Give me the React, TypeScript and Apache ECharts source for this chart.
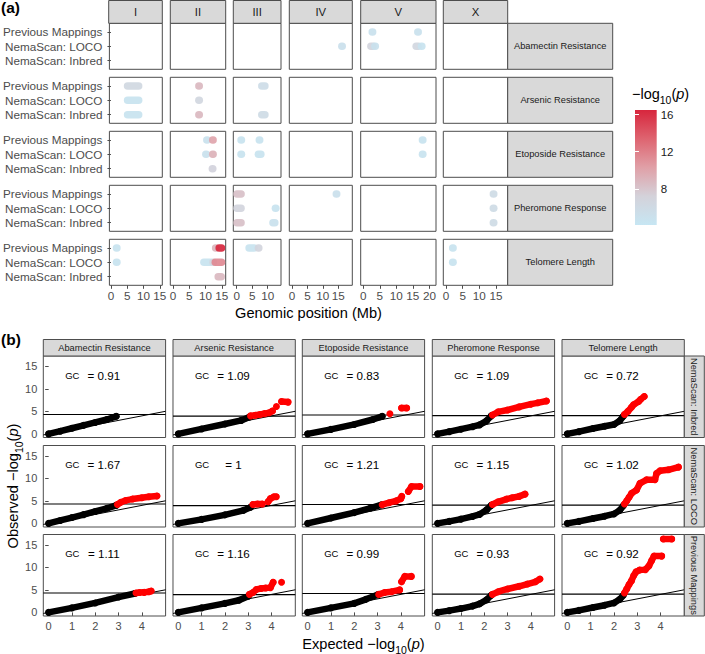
import React, { useEffect, useRef } from 'react';
import * as echarts from 'echarts';

const FONT = '"Liberation Sans", Arial, Helvetica, sans-serif';
const BORDER = '#4d4d4d';
const TICK_TEXT = '#4d4d4d';
const STRIP_FILL = '#d9d9d9';

// ---------------- Panel (a) data ----------------
const chromosomes = ['I', 'II', 'III', 'IV', 'V', 'X'];
const chromAxisMin = [-0.48, -0.83, -1.1, -0.88, -0.79, -0.81];
const chromAxisMax = [15.76, 16.2, 14.3, 19.6, 22.0, 18.5];
const chromTickValues = [
  [0, 5, 10, 15],
  [0, 5, 10, 15],
  [0, 5, 10],
  [0, 5, 10, 15],
  [0, 5, 10, 15, 20],
  [0, 5, 10, 15],
];
const traits = [
  'Abamectin Resistance',
  'Arsenic Resistance',
  'Etoposide Resistance',
  'Pheromone Response',
  'Telomere Length',
];
const mappingMethods = ['Previous Mappings', 'NemaScan: LOCO', 'NemaScan: Inbred'];

// [traitIndex, chromIndex, methodIndex(0=Previous,1=LOCO,2=Inbred), startMb, endMb, -log10(p)]
const qtlIntervals: number[][] = [
  [0, 3, 1, 16.2, 16.2, 5.0],
  [0, 4, 0, 2.7, 2.7, 4.8],
  [0, 4, 0, 16.5, 16.5, 4.8],
  [0, 4, 1, 2.3, 2.9, 6.8],
  [0, 4, 1, 3.5, 3.5, 4.8],
  [0, 4, 1, 16.0, 16.6, 6.5],
  [0, 4, 1, 17.6, 17.6, 4.6],

  [1, 0, 0, 5.1, 8.5, 6.3],
  [1, 0, 1, 5.1, 8.5, 4.6],
  [1, 0, 2, 5.1, 8.5, 4.6],
  [1, 1, 0, 7.95, 7.95, 8.8],
  [1, 1, 1, 7.95, 7.95, 6.5],
  [1, 1, 2, 7.95, 7.95, 8.8],
  [1, 2, 0, 8.1, 9.1, 5.6],
  [1, 2, 2, 8.1, 9.1, 5.8],

  [2, 1, 0, 10.4, 10.4, 4.8],
  [2, 1, 0, 12.2, 12.2, 10.0],
  [2, 1, 1, 10.1, 10.1, 4.8],
  [2, 1, 1, 12.2, 12.2, 9.2],
  [2, 1, 2, 12.1, 12.1, 7.0],
  [2, 2, 0, 1.4, 1.4, 4.6],
  [2, 2, 0, 7.3, 7.3, 4.6],
  [2, 2, 1, 1.4, 1.4, 4.6],
  [2, 2, 1, 7.0, 7.8, 4.6],
  [2, 4, 0, 17.9, 17.9, 4.6],
  [2, 4, 1, 17.9, 17.9, 4.6],

  [3, 2, 0, 0.1, 1.4, 8.3],
  [3, 2, 1, 0.1, 1.4, 6.8],
  [3, 2, 1, 12.5, 12.5, 4.6],
  [3, 2, 2, 0.1, 1.4, 8.3],
  [3, 2, 2, 11.7, 12.3, 4.8],
  [3, 3, 0, 14.4, 14.4, 5.0],
  [3, 5, 0, 14.2, 14.2, 5.8],
  [3, 5, 1, 14.2, 14.2, 5.8],
  [3, 5, 2, 14.2, 14.2, 5.8],

  [4, 0, 0, 1.7, 1.7, 4.6],
  [4, 0, 1, 1.7, 1.7, 4.6],
  [4, 1, 0, 13.1, 13.1, 9.0],
  [4, 1, 0, 14.2, 14.9, 16.5],
  [4, 1, 1, 9.5, 11.4, 4.6],
  [4, 1, 1, 12.3, 12.3, 6.5],
  [4, 1, 1, 13.0, 14.9, 11.5],
  [4, 1, 2, 13.9, 14.8, 8.8],
  [4, 2, 0, 4.0, 5.6, 4.6],
  [4, 2, 0, 7.0, 7.0, 6.8],
  [4, 5, 0, 2.0, 2.0, 4.6],
  [4, 5, 1, 2.0, 2.0, 4.6],
];

const colorScaleMin = 4.1;
const colorScaleMax = 16.5;
const colorScaleColors = ['#c6e6f3', '#d4d2da', '#e0a0a7', '#de6470', '#d7263d'];
const colorbarTicks = [8, 12, 16];

// ---------------- Panel (b) data ----------------
const qqRowLabels = ['NemaScan: Inbred', 'NemaScan: LOCO', 'Previous Mappings'];
const qqThresholds = [4.3, 3.95, 4.2, 4.05, 4.05];
const gcInbred = [0.91, 1.09, 0.83, 1.09, 0.72];
const gcLoco = [1.67, 1, 1.21, 1.15, 1.02];
const gcPrevious = [1.11, 1.16, 0.99, 0.93, 0.92];
const qqXTicks = [0, 1, 2, 3, 4];
const qqYTicks = [0, 5, 10, 15];

type P = number[] | null;
// NemaScan: Inbred
const abaInbredNonSig: P[] = [[0, 0], [0.5, 0.6], [1, 1.25], [1.5, 1.9], [2, 2.55], [2.5, 3.2], [2.9, 3.9]];
const abaInbredSig: P[] = [];
const arsInbredNonSig: P[] = [[0, 0], [1, 1.1], [2, 2.2], [2.7, 3.0], [3.05, 3.75]];
const arsInbredSig: P[] = [[3.1, 4.0], [3.3, 4.15], [3.5, 4.3], [3.7, 4.5], [3.9, 4.7], [4.04, 5.1], null, [4.21, 6.1], null, [4.43, 7.2], [4.71, 7.06]];
const etoInbredNonSig: P[] = [[0, 0], [1, 1.0], [2, 2.1], [2.8, 3.2], [3.2, 3.9]];
const etoInbredSig: P[] = [[3.53, 4.48], null, [4.03, 5.74], [4.25, 5.74]];
const pherInbredNonSig: P[] = [[0, 0], [0.5, 0.5], [1, 1.05], [1.5, 1.6], [1.8, 2.0], [2.1, 2.9], [2.3, 4.0]];
const pherInbredSig: P[] = [[2.35, 4.2], [2.6, 4.9], [3.0, 5.3], [3.5, 6.0], [4.0, 6.6], [4.3, 6.9], [4.67, 7.3]];
const telInbredNonSig: P[] = [[0, 0], [0.5, 0.5], [1.1, 1.2], [1.6, 1.7], [2.0, 2.1], [2.25, 2.9], [2.4, 3.9]];
const telInbredSig: P[] = [[2.45, 4.3], [2.6, 5.0], [2.75, 5.9], [2.84, 6.47], [3.06, 7.2], [3.15, 7.7], [3.3, 8.3]];
// NemaScan: LOCO
const abaLocoNonSig: P[] = [[0, 0], [0.5, 0.65], [1, 1.3], [1.5, 1.95], [2, 2.65], [2.5, 3.35], [2.9, 4.0]];
const abaLocoSig: P[] = [[2.95, 4.2], [3.1, 4.7], [3.3, 5.1], [3.6, 5.4], [4.0, 5.7], [4.3, 5.9], [4.65, 6.1]];
const arsLocoNonSig: P[] = [[0, 0], [1, 0.9], [2, 1.9], [2.8, 2.9], [3.1, 3.6]];
const arsLocoSig: P[] = [[3.2, 4.2], [3.4, 4.3], [3.6, 4.3], null, [3.85, 4.8], [3.95, 5.5], [4.1, 5.9], [4.2, 5.9]];
const etoLocoNonSig: P[] = [[0, 0], [1, 1.2], [2, 2.4], [2.7, 3.4], [3.15, 4.1]];
const etoLocoSig: P[] = [[3.2, 4.15], [3.5, 4.6], [3.8, 5.0], [4.0, 5.5], [4.04, 6.0], null, [4.32, 7.1], [4.46, 8.2], [4.82, 8.2]];
const pherLocoNonSig: P[] = [[0, 0], [0.5, 0.45], [1, 0.95], [1.5, 1.55], [1.8, 2.0], [2.1, 3.0], [2.3, 4.0]];
const pherLocoSig: P[] = [[2.35, 4.2], [2.6, 4.8], [2.96, 5.4], [3.2, 5.7], [3.5, 6.0], [3.75, 6.5]];
const telLocoNonSig: P[] = [[0, 0], [0.5, 0.45], [1.1, 1.1], [1.6, 1.6], [2.0, 2.1], [2.25, 2.9], [2.4, 3.9]];
const telLocoSig: P[] = [[2.45, 4.3], [2.55, 5.0], [2.65, 5.8], [2.76, 6.7], [2.97, 7.4], [3.12, 8.9], [3.4, 9.7], [3.76, 9.7], [3.83, 11.1], [3.98, 11.7], [4.34, 11.9], [4.77, 12.5]];
// Previous Mappings
const abaPrevNonSig: P[] = [[0, 0], [1, 1.0], [2, 2.1], [3, 3.4], [3.7, 4.2]];
const abaPrevSig: P[] = [[3.75, 4.3], [3.9, 4.4], [4.1, 4.45], [4.3, 4.6], [4.4, 4.75]];
const arsPrevNonSig: P[] = [[0, 0], [1, 1.0], [2, 2.0], [2.6, 2.7], [3.0, 3.6]];
const arsPrevSig: P[] = [[3.05, 4.0], [3.2, 4.4], [3.35, 5.1], [3.55, 5.3], [3.75, 5.4], [3.95, 5.5], [4.07, 6.7], null, [4.43, 6.7]];
const etoPrevNonSig: P[] = [[0, 0], [1, 1.0], [2, 2.0], [2.5, 2.9], [3.0, 3.9]];
const etoPrevSig: P[] = [[3.05, 4.0], [3.3, 4.4], [3.6, 4.6], [3.95, 5.0], null, [4.03, 6.8], [4.17, 8.0], [4.45, 8.0]];
const pherPrevNonSig: P[] = [[0, 0], [0.5, 0.4], [1, 0.85], [1.5, 1.4], [1.8, 1.9], [2.1, 2.8], [2.3, 3.8]];
const pherPrevSig: P[] = [[2.35, 4.0], [2.6, 4.6], [3.0, 5.2], [3.5, 5.8], [3.85, 6.3], [4.2, 6.8], [4.39, 7.4]];
const telPrevNonSig: P[] = [[0, 0], [0.5, 0.45], [1.1, 1.1], [1.6, 1.6], [2.0, 2.1], [2.25, 2.9], [2.4, 3.8]];
const telPrevSig: P[] = [[2.45, 4.3], [2.55, 5.2], [2.65, 6.2], [2.75, 7.0], [2.85, 8.2], [2.95, 9.0], [3.1, 9.4], [3.35, 9.5], [3.5, 10.3], [3.62, 11.5], [3.72, 12.5], [4.05, 12.5], null, [4.12, 16.3], [4.48, 16.3]];

const qqNonSig = [
  [abaInbredNonSig, arsInbredNonSig, etoInbredNonSig, pherInbredNonSig, telInbredNonSig],
  [abaLocoNonSig, arsLocoNonSig, etoLocoNonSig, pherLocoNonSig, telLocoNonSig],
  [abaPrevNonSig, arsPrevNonSig, etoPrevNonSig, pherPrevNonSig, telPrevNonSig],
];
const qqSig = [
  [abaInbredSig, arsInbredSig, etoInbredSig, pherInbredSig, telInbredSig],
  [abaLocoSig, arsLocoSig, etoLocoSig, pherLocoSig, telLocoSig],
  [abaPrevSig, arsPrevSig, etoPrevSig, pherPrevSig, telPrevSig],
];
const gcValues = [gcInbred, gcLoco, gcPrevious];

// ---------------- layout ----------------
const aColLeft = [108.7, 170.3, 233.3, 289.3, 360.7, 443.3];
const aColRight = [162.3, 225.7, 281, 352.3, 436, 507.7];
const aRowTop = [23.3, 77.3, 131.3, 185.3, 239.3];
const aRowH = 46;
const aStripTop = 0.5;
const aRightStripW = 105;

const bColLeft = [43.3, 173, 302.3, 432.3, 562];
const bColW = 122.3;
const bRowTop = [356, 445.5, 534.5];
const bRowH = 81.5;
const bXMin = -0.23;
const bXMax = 5.02;
const bYMin = -0.8;
const bYMax = 17.3;

function stripRect(x: number, y: number, w: number, h: number) {
  return {
    type: 'rect',
    silent: true,
    shape: { x, y, width: w, height: h },
    style: { fill: STRIP_FILL, stroke: BORDER, lineWidth: 1 },
    z: 10,
  };
}
function label(x: number, y: number, text: string, fontSize: number, opts: any = {}) {
  return {
    type: 'text',
    silent: true,
    x,
    y,
    rotation: opts.rotation || 0,
    z: 11,
    style: {
      text,
      fontSize,
      fontFamily: FONT,
      fontWeight: opts.fontWeight || 'normal',
      fill: opts.fill || '#1a1a1a',
      align: opts.align || 'center',
      verticalAlign: 'middle',
      textAlign: opts.align || 'center',
      textVerticalAlign: 'middle',
      rich: opts.rich,
    },
  };
}

function logRich(size: number) {
  return {
    n: { fontSize: size, fontFamily: FONT, fill: '#000', lineHeight: 22, verticalAlign: 'middle' },
    s: { fontSize: size * 0.72, fontFamily: FONT, fill: '#000', lineHeight: 10, verticalAlign: 'bottom' },
    i: { fontSize: size, fontFamily: FONT, fontStyle: 'italic', fill: '#000', lineHeight: 22, verticalAlign: 'middle' },
  };
}

function buildOption() {
  const grid: any[] = [];
  const xAxis: any[] = [];
  const yAxis: any[] = [];
  const series: any[] = [];
  const graphic: any[] = [];
  const intervalSeries: number[] = [];

  const renderInterval = (params: any, api: any) => {
    const y = api.value(2);
    const p1 = api.coord([api.value(0), y]);
    const p2 = api.coord([api.value(1), y]);
    return {
      type: 'line',
      shape: { x1: p1[0], y1: p1[1], x2: Math.max(p2[0], p1[0] + 0.4), y2: p2[1] },
      style: { stroke: api.visual('color'), lineWidth: 7.5, lineCap: 'round', opacity: 0.92 },
    };
  };

  // ----- panel (a)
  traits.forEach((trait, r) => {
    chromosomes.forEach((chrom, c) => {
      const gi = grid.length;
      const bottom = r === traits.length - 1;
      const first = c === 0;
      grid.push({
        left: aColLeft[c],
        top: aRowTop[r],
        width: aColRight[c] - aColLeft[c],
        height: aRowH,
        show: true,
        borderColor: BORDER,
        borderWidth: 1,
        backgroundColor: '#fff',
      });
      xAxis.push({
        gridIndex: gi,
        type: 'value',
        min: chromAxisMin[c],
        max: chromAxisMax[c],
        axisLine: { show: false },
        splitLine: { show: false },
        axisTick: { show: bottom, customValues: chromTickValues[c], length: 3.5, lineStyle: { color: BORDER } },
        axisLabel: {
          show: bottom,
          customValues: chromTickValues[c],
          margin: 4.5,
          fontSize: 11.7,
          color: TICK_TEXT,
          fontFamily: FONT,
        },
      });
      yAxis.push({
        gridIndex: gi,
        type: 'value',
        min: 0.4,
        max: 3.6,
        inverse: true,
        axisLine: { show: false },
        splitLine: { show: false },
        axisTick: { show: first, customValues: [1, 2, 3], length: 3.5, lineStyle: { color: BORDER } },
        axisLabel: {
          show: first,
          customValues: [1, 2, 3],
          formatter: (v: number) => mappingMethods[Math.round(v) - 1],
          margin: 7,
          fontSize: 11.7,
          color: TICK_TEXT,
          fontFamily: FONT,
        },
      });
      const data = qtlIntervals
        .filter((d) => d[0] === r && d[1] === c)
        .map((d) => [d[3], d[4], d[2] + 1, d[5]]);
      if (data.length) {
        intervalSeries.push(series.length);
        series.push({
          type: 'custom',
          xAxisIndex: gi,
          yAxisIndex: gi,
          data,
          renderItem: renderInterval,
          encode: { x: [0, 1], y: 2 },
          clip: false,
          silent: true,
        });
      }
      if (r === 0) {
        graphic.push(stripRect(aColLeft[c], aStripTop, aColRight[c] - aColLeft[c], aRowTop[0] - aStripTop));
        graphic.push(label((aColLeft[c] + aColRight[c]) / 2, (aStripTop + aRowTop[0]) / 2, chrom, 11.3));
      }
    });
    const rx = aColRight[chromosomes.length - 1];
    graphic.push(stripRect(rx, aRowTop[r], aRightStripW, aRowH));
    graphic.push(label(rx + aRightStripW / 2, aRowTop[r] + aRowH / 2, trait, 9.3));
  });

  // colorbar
  const cbLeft = 635;
  const cbTop = 110;
  const cbW = 21.7;
  const cbH = 115;
  const cbGrid = grid.length;
  grid.push({ left: cbLeft, top: cbTop, width: cbW, height: cbH, show: false });
  xAxis.push({ gridIndex: cbGrid, type: 'value', min: 0, max: 1, show: false });
  yAxis.push({
    gridIndex: cbGrid,
    type: 'value',
    position: 'right',
    min: colorScaleMin,
    max: colorScaleMax,
    z: 5,
    axisLine: { show: false },
    splitLine: { show: false },
    axisTick: { show: true, inside: true, customValues: colorbarTicks, length: 4, lineStyle: { color: '#ffffff', width: 1 } },
    axisLabel: { customValues: colorbarTicks, margin: 4, fontSize: 11.5, color: '#1a1a1a', fontFamily: FONT, inside: false },
  });
  yAxis.push({
    gridIndex: cbGrid,
    type: 'value',
    position: 'left',
    min: colorScaleMin,
    max: colorScaleMax,
    z: 5,
    axisLine: { show: false },
    splitLine: { show: false },
    axisTick: { show: true, inside: true, customValues: colorbarTicks, length: 4, lineStyle: { color: '#ffffff', width: 1 } },
    axisLabel: { show: false },
  });
  const gradStops = colorScaleColors.map((c, i) => ({ offset: i / (colorScaleColors.length - 1), color: c }));
  series.push({
    type: 'custom',
    xAxisIndex: cbGrid,
    yAxisIndex: yAxis.length - 2,
    data: [[0.5, colorScaleMin]],
    silent: true,
    renderItem: (params: any) => {
      const cs = params.coordSys;
      return {
        type: 'rect',
        shape: { x: cs.x, y: cs.y, width: cs.width, height: cs.height },
        style: { fill: new echarts.graphic.LinearGradient(0, 1, 0, 0, gradStops) },
      };
    },
  });
  graphic.push(
    label(632, 94, '{n|\u2212log}{s|10}{n|(}{i|p}{n|)}', 14, { align: 'left', rich: logRich(14.5) })
  );

  // ----- panel (b)
  qqRowLabels.forEach((rowLabel, r) => {
    traits.forEach((trait, c) => {
      const gi = grid.length;
      const bottom = r === qqRowLabels.length - 1;
      const first = c === 0;
      grid.push({
        left: bColLeft[c],
        top: bRowTop[r],
        width: bColW,
        height: bRowH,
        show: true,
        borderColor: BORDER,
        borderWidth: 1,
        backgroundColor: '#fff',
      });
      xAxis.push({
        gridIndex: gi,
        type: 'value',
        min: bXMin,
        max: bXMax,
        axisLine: { show: false },
        splitLine: { show: false },
        axisTick: { show: bottom, customValues: qqXTicks, length: 3.5, lineStyle: { color: BORDER } },
        axisLabel: { show: bottom, customValues: qqXTicks, margin: 4.5, fontSize: 11, color: TICK_TEXT, fontFamily: FONT },
      });
      const yi = yAxis.length;
      yAxis.push({
        gridIndex: gi,
        type: 'value',
        min: bYMin,
        max: bYMax,
        axisLine: { show: false },
        splitLine: { show: false },
        axisTick: { show: first, customValues: qqYTicks, length: 3.5, lineStyle: { color: BORDER } },
        axisLabel: { show: first, customValues: qqYTicks, margin: 6, fontSize: 11, color: TICK_TEXT, fontFamily: FONT },
      });
      const t = qqThresholds[c];
      series.push({
        type: 'line',
        xAxisIndex: gi,
        yAxisIndex: yi,
        data: [[bXMin, bXMin], [bXMax, bXMax]],
        symbol: 'none',
        silent: true,
        lineStyle: { color: '#000', width: 1 },
        z: 1,
      });
      series.push({
        type: 'line',
        xAxisIndex: gi,
        yAxisIndex: yi,
        data: [[bXMin, t], [bXMax, t]],
        symbol: 'none',
        silent: true,
        lineStyle: { color: '#000', width: 1.1 },
        z: 1,
      });
      [
        { data: qqNonSig[r][c], color: '#000000' },
        { data: qqSig[r][c], color: '#ff0000' },
      ].forEach((s) => {
        if (!s.data.length) return;
        series.push({
          type: 'line',
          xAxisIndex: gi,
          yAxisIndex: yi,
          data: s.data.map((p) => (p ? p : '-')),
          connectNulls: false,
          showSymbol: true,
          showAllSymbol: true,
          symbol: 'circle',
          symbolSize: 7,
          silent: true,
          itemStyle: { color: s.color },
          lineStyle: { color: s.color, width: 6.5, cap: 'round', join: 'round' },
          z: 3,
        });
      });
      // GC annotation
      graphic.push(label(bColLeft[c] + 29, bRowTop[r] + 19, 'GC', 9.5, { fill: '#000' }));
      graphic.push(label(bColLeft[c] + 60.5, bRowTop[r] + 19, '= ' + String(gcValues[r][c]), 11.6, { fill: '#000' }));
      if (r === 0) {
        graphic.push(stripRect(bColLeft[c], 339.5, bColW, bRowTop[0] - 339.5));
        graphic.push(label(bColLeft[c] + bColW / 2, (339.5 + bRowTop[0]) / 2, trait, 9.3));
      }
    });
    const rx = bColLeft[traits.length - 1] + bColW;
    graphic.push(stripRect(rx, bRowTop[r], 20, bRowH));
    graphic.push(label(rx + 10, bRowTop[r] + bRowH / 2, rowLabel, 9.3, { rotation: -Math.PI / 2 }));
  });

  // titles
  graphic.push(label(1, 7, '(a)', 15.5, { align: 'left', fontWeight: 'bold', fill: '#000' }));
  graphic.push(label(1, 339, '(b)', 15.5, { align: 'left', fontWeight: 'bold', fill: '#000' }));
  graphic.push(label(308.5, 313, 'Genomic position (Mb)', 14.6, { fill: '#000' }));
  graphic.push(
    label(363.5, 644, '{n|Expected \u2212log}{s|10}{n|(}{i|p}{n|)}', 14.6, { rich: logRich(14.6) })
  );
  graphic.push(
    label(13, 486, '{n|Observed \u2212log}{s|10}{n|(}{i|p}{n|)}', 14.6, { rich: logRich(14.6), rotation: Math.PI / 2 })
  );

  return {
    animation: false,
    backgroundColor: '#ffffff',
    textStyle: { fontFamily: FONT },
    grid,
    xAxis,
    yAxis,
    series,
    graphic,
    visualMap: [
      {
        type: 'continuous',
        show: false,
        min: colorScaleMin,
        max: colorScaleMax,
        dimension: 3,
        seriesIndex: intervalSeries,
        inRange: { color: colorScaleColors },
      },
    ],
  };
}

export default function App() {
  const ref = useRef<HTMLDivElement>(null);
  useEffect(() => {
    document.body.style.margin = '0';
    const chart = echarts.init(ref.current as HTMLDivElement, null, { renderer: 'svg' });
    chart.setOption(buildOption() as any);
    return () => chart.dispose();
  }, []);
  return <div ref={ref} style={{ width: 705, height: 654 }} />;
}
